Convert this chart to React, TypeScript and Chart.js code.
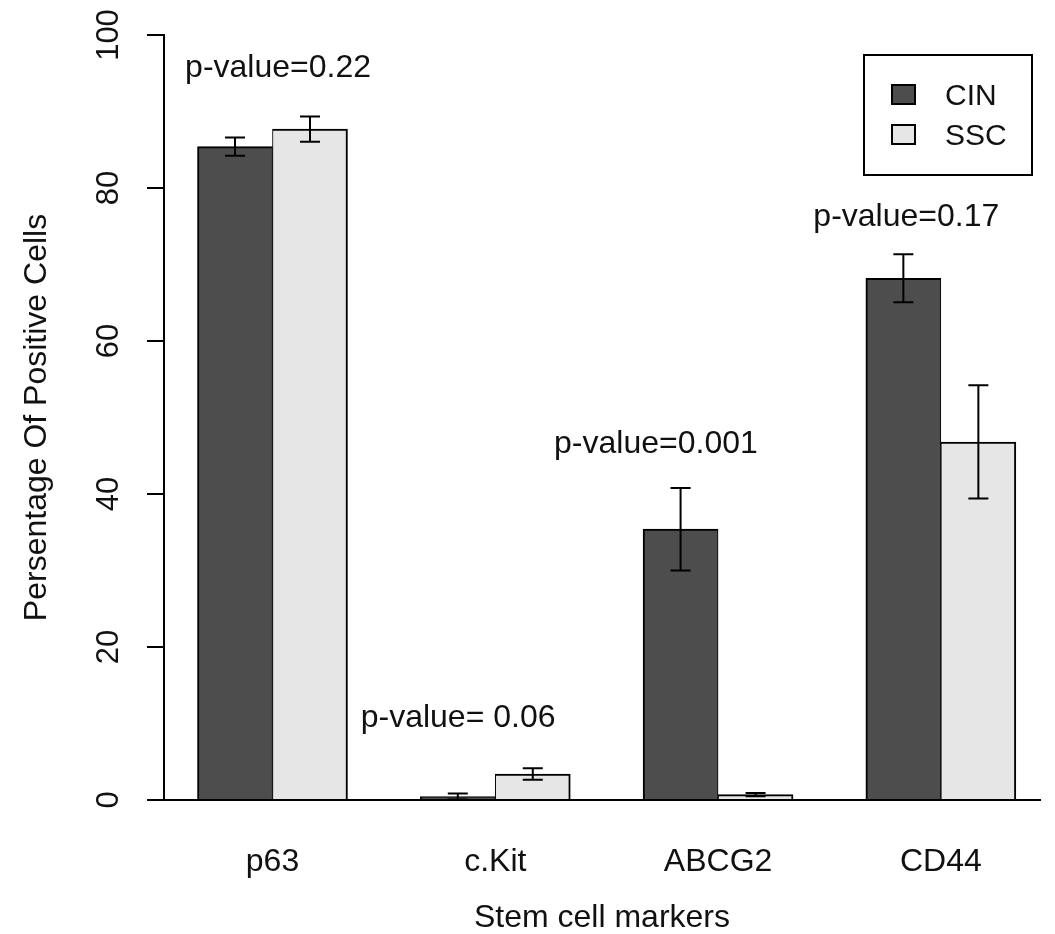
import React, { useEffect, useRef } from "react";
import { Chart, registerables } from "chart.js";

Chart.register(...registerables);

const categories = ["p63", "c.Kit", "ABCG2", "CD44"];
const seriesNames = ["CIN", "SSC"];
const cinValues = [85.4, 0.45, 35.4, 68.2];
const cinErrors = [1.2, 0.4, 5.4, 3.15];
const sscValues = [87.7, 3.4, 0.7, 46.8];
const sscErrors = [1.65, 0.75, 0.2, 7.4];
const yTicks = [0, 20, 40, 60, 80, 100];
const pLabels = ["p-value=0.22", "p-value= 0.06", "p-value=0.001", "p-value=0.17"];
const pX = [1.025, 1.833, 2.721, 3.845];
const pY = [94.5, 9.5, 45.4, 75.0];

const FONT = "'Liberation Sans', Arial, Helvetica, sans-serif";
const CIN_COLOR = "#4d4d4d";
const SSC_COLOR = "#e6e6e6";
const TEXT = "#111111";

const overlayPlugin = {
  id: "overlay",
  afterDatasetsDraw(chart: any) {
    const ctx = chart.ctx;
    const ys = chart.scales.y;
    const xs = chart.scales.x;
    const area = chart.chartArea;
    const vals = [cinValues, sscValues];
    const errs = [cinErrors, sscErrors];
    ctx.save();
    // error bars
    ctx.strokeStyle = "#000";
    ctx.lineWidth = 2;
    chart.data.datasets.forEach((_: any, i: number) => {
      const meta = chart.getDatasetMeta(i);
      meta.data.forEach((bar: any, j: number) => {
        const v = vals[i][j];
        const e = errs[i][j];
        const top = ys.getPixelForValue(v + e);
        const bot = ys.getPixelForValue(Math.max(0, v - e));
        const cx = bar.x;
        ctx.beginPath();
        ctx.moveTo(cx, top);
        ctx.lineTo(cx, bot);
        ctx.moveTo(cx - 10, top);
        ctx.lineTo(cx + 10, top);
        ctx.moveTo(cx - 10, bot);
        ctx.lineTo(cx + 10, bot);
        ctx.stroke();
      });
    });
    // p-value annotations
    ctx.fillStyle = TEXT;
    ctx.font = `32px ${FONT}`;
    ctx.textAlign = "center";
    ctx.textBaseline = "alphabetic";
    pLabels.forEach((t, k) => {
      ctx.fillText(t, xs.getPixelForValue(pX[k]), ys.getPixelForValue(pY[k]));
    });
    // rotated y tick labels
    ctx.font = `31px ${FONT}`;
    yTicks.forEach((v) => {
      const py = ys.getPixelForValue(v);
      ctx.save();
      ctx.translate(area.left - 46, py);
      ctx.rotate(-Math.PI / 2);
      ctx.textAlign = "center";
      ctx.textBaseline = "alphabetic";
      ctx.fillText(String(v), 0, 0);
      ctx.restore();
    });
    // legend box
    const bx = area.right - 176;
    const by = area.top + 20;
    const bw = 168;
    const bh = 120;
    ctx.fillStyle = "#fff";
    ctx.fillRect(bx, by, bw, bh);
    ctx.strokeStyle = "#000";
    ctx.lineWidth = 2;
    ctx.strokeRect(bx, by, bw, bh);
    const colors = [CIN_COLOR, SSC_COLOR];
    seriesNames.forEach((name, k) => {
      const sy = by + 30 + k * 40;
      ctx.fillStyle = colors[k];
      ctx.fillRect(bx + 28, sy, 23, 19);
      ctx.strokeStyle = "#000";
      ctx.lineWidth = 2;
      ctx.strokeRect(bx + 28, sy, 23, 19);
      ctx.fillStyle = TEXT;
      ctx.font = `30px ${FONT}`;
      ctx.textAlign = "left";
      ctx.textBaseline = "middle";
      ctx.fillText(name, bx + 81, sy + 12);
    });
    ctx.restore();
  },
};

export default function App() {
  const ref = useRef<HTMLCanvasElement | null>(null);

  useEffect(() => {
    if (!ref.current) return;
    Chart.defaults.font.family = FONT;
    const chart = new Chart(ref.current, {
      type: "bar",
      data: {
        datasets: [
          {
            label: seriesNames[0],
            data: cinValues.map((v, i) => ({ x: i + 1, y: v })),
            backgroundColor: CIN_COLOR,
            borderColor: "#000",
            borderWidth: { top: 2, left: 2, right: 1, bottom: 0 },
            borderSkipped: false,
          },
          {
            label: seriesNames[1],
            data: sscValues.map((v, i) => ({ x: i + 1, y: v })),
            backgroundColor: SSC_COLOR,
            borderColor: "#000",
            borderWidth: { top: 2, left: 1, right: 2, bottom: 0 },
            borderSkipped: false,
          },
        ],
      },
      options: {
        responsive: false,
        animation: false,
        layout: { padding: { left: 0, top: 35, right: 15, bottom: 0 } },
        plugins: {
          legend: { display: false },
          tooltip: { enabled: false },
        },
        datasets: { bar: { barThickness: 75 } },
        scales: {
          x: {
            type: "linear",
            offset: false,
            min: 0.513,
            max: 4.445,
            afterBuildTicks: (axis: any) => {
              axis.ticks = categories.map((_, i) => ({ value: i + 1 }));
            },
            afterFit: (axis: any) => {
              axis.height = 134;
            },
            grid: { display: false, drawTicks: false, offset: false },
            border: { display: true, color: "#000", width: 2 },
            ticks: {
              padding: 43,
              color: TEXT,
              font: { size: 32, family: FONT },
              autoSkip: false,
              maxRotation: 0,
              callback: (value: any) => categories[Math.round(Number(value)) - 1] ?? "",
            },
            title: {
              display: true,
              text: "Stem cell markers",
              color: TEXT,
              font: { size: 32, family: FONT, lineHeight: 1 },
              padding: { top: 0, bottom: 0 },
            },
          },
          y: {
            type: "linear",
            min: 0,
            max: 100,
            afterBuildTicks: (axis: any) => {
              axis.ticks = yTicks.map((v) => ({ value: v }));
            },
            afterFit: (axis: any) => {
              axis.width = 164;
            },
            grid: {
              display: true,
              drawOnChartArea: false,
              drawTicks: true,
              tickLength: 17,
              color: "#000",
              lineWidth: 2,
            },
            border: { display: true, color: "#000", width: 2 },
            ticks: { display: false },
            title: {
              display: true,
              text: "Persentage Of Positive Cells",
              color: TEXT,
              font: { size: 32, family: FONT, lineHeight: 1.2 },
              padding: { top: 18, bottom: 0 },
            },
          },
        },
      },
      plugins: [overlayPlugin],
    } as any);
    return () => chart.destroy();
  }, []);

  return (
    <div style={{ position: "fixed", left: 0, top: 0, width: 1055, height: 934, background: "#fff" }}>
      <canvas ref={ref} width={1055} height={934} style={{ display: "block" }} />
    </div>
  );
}
